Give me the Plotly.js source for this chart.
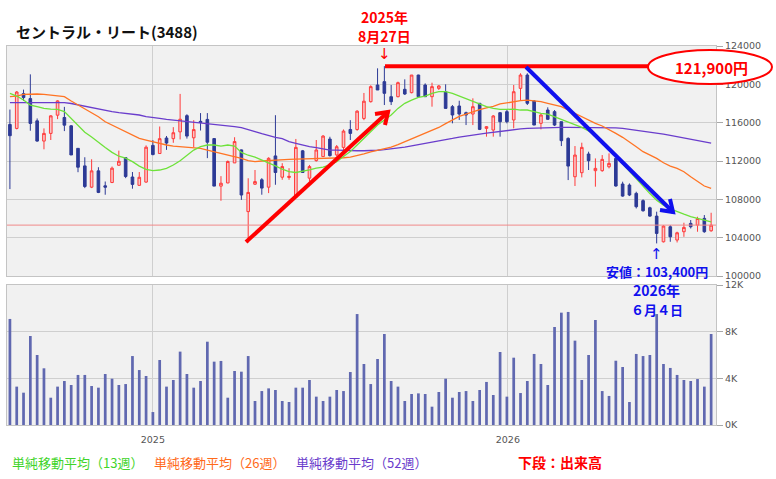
<!DOCTYPE html>
<html>
<head>
<meta charset="utf-8">
<script src="https://cdn.plot.ly/plotly-3.0.1.min.js"></script>
<style>
html,body{margin:0;padding:0;background:#fff;}
#chart{width:776px;height:479px;}
</style>
</head>
<body>
<div id="chart"></div>
<script>
const dates = [
'2024-08-07','2024-08-14','2024-08-21','2024-08-28','2024-09-04','2024-09-11','2024-09-18','2024-09-25',
'2024-10-02','2024-10-09','2024-10-16','2024-10-23','2024-10-30','2024-11-06','2024-11-13','2024-11-20',
'2024-11-27','2024-12-04','2024-12-11','2024-12-18','2024-12-25',
'2025-01-01','2025-01-08','2025-01-15','2025-01-22','2025-01-29','2025-02-05','2025-02-12','2025-02-19',
'2025-02-26','2025-03-05','2025-03-12','2025-03-19','2025-03-26','2025-04-02','2025-04-09','2025-04-16',
'2025-04-23','2025-04-30','2025-05-07','2025-05-14','2025-05-21','2025-05-28','2025-06-04','2025-06-11',
'2025-06-18','2025-06-25','2025-07-02','2025-07-09','2025-07-16','2025-07-23','2025-07-30','2025-08-06',
'2025-08-13','2025-08-20','2025-08-27','2025-09-03','2025-09-10','2025-09-17','2025-09-24','2025-10-01',
'2025-10-08','2025-10-15','2025-10-22','2025-10-29','2025-11-05','2025-11-12','2025-11-19','2025-11-26',
'2025-12-03','2025-12-10','2025-12-17','2025-12-24','2025-12-31',
'2026-01-07','2026-01-14','2026-01-21','2026-01-28','2026-02-04','2026-02-11','2026-02-18','2026-02-25',
'2026-03-04','2026-03-11','2026-03-18','2026-03-25','2026-04-01','2026-04-08','2026-04-15','2026-04-22',
'2026-04-29','2026-05-06','2026-05-13','2026-05-20','2026-05-27','2026-06-03','2026-06-10','2026-06-17',
'2026-06-24','2026-07-01','2026-07-08','2026-07-15','2026-07-22','2026-07-29'];

const opens = [115810,115400,119030,118510,116190,114080,114880,116780,116540,115670,113320,111490,109270,110970,109410,109760,111560,112350,110330,109460,109800,
113630,112780,114400,114330,115040,116730,114420,116140,116340,114340,109380,109710,111800,113160,106720,109580,110040,109270,112530,110310,110280,108240,113060,110210,112040,112460,114290,112630,113420,115290,115290,116440,118190,119930,120280,118710,118710,119480,119130,120970,119930,118710,119580,119230,117670,117740,117040,116900,118020,115400,115230,117040,117150,
116280,119580,120970,118260,115930,117320,117150,116100,114360,110360,110780,112730,110990,110990,111400,112270,109600,109490,108620,107860,107120,106250,103570,105140,103750,104620,105490,105310,106010,104720];

const highs = [117370,119300,119450,121040,116440,115400,116780,118340,117650,115740,113320,112390,112180,111350,109860,111420,113080,112390,110850,110850,113630,
114180,115600,114610,115530,119000,116880,116260,117000,117000,114400,110420,112050,114480,113200,110200,111060,110210,112390,116780,111770,111250,114300,113150,111590,114190,114710,114530,113670,115290,116260,117300,119100,119900,121670,121900,119930,120280,120520,120970,121000,120100,120170,119930,120000,117840,118290,117150,118540,118020,115650,116800,117100,117320,
119930,121150,121150,118360,116900,117600,117320,116100,114470,113560,113910,112970,112270,112620,112800,112270,109840,109660,108790,108000,107230,106710,105310,105310,104620,105560,105840,106180,106360,106600];

const lows = [109070,115300,118270,115160,114010,113220,114190,116370,115120,112630,110830,109170,109170,108650,108480,109690,111490,110210,109110,109420,109730,
112600,112780,113160,113900,114250,114340,113440,115180,112300,109380,107850,109680,111800,107940,103500,109500,108480,108650,109520,110040,110040,108240,110800,109860,111940,112460,112460,112460,113150,114190,115150,116260,118100,119410,117840,117840,118640,118890,119060,118710,118710,117670,119410,117490,115930,116280,115750,115750,115230,114540,114540,114540,115930,
115410,118360,117840,115750,115300,116280,115650,113560,110010,109390,110290,111060,109320,110880,111230,109320,108270,108340,107050,106710,106180,103400,103500,103570,103500,104090,104960,104620,104510,104620];

const closes = [114640,119200,118620,115920,114080,114880,116710,118270,115740,112630,111350,109340,110970,108720,109270,111250,111970,110380,109560,110300,113440,
112670,114330,113870,114950,116360,114600,115280,116030,113960,109380,109680,111950,114030,108450,108720,109850,109170,112280,110800,111420,110400,113420,110800,111420,113150,114600,112560,113490,115120,114880,117200,118240,119760,119410,119060,118190,120170,118990,120970,118710,118710,119760,119830,117490,116800,116900,116800,117670,115300,115580,116700,116100,116100,
119230,120970,118020,115750,116800,116350,115750,114120,111470,112620,113420,112030,111230,112170,111750,109390,108340,108450,107230,106810,106250,104440,105210,104090,104510,105070,105140,106000,104620,105310];

const volumes = [9090,3290,2770,7630,6000,4860,2340,3290,3770,3430,4290,4290,3340,3200,4370,3970,3430,3510,5910,4710,4200,
1110,5570,3290,3860,6290,4370,3200,3770,7140,5430,5490,2340,4630,4570,5910,2060,2910,3140,3000,2060,1970,3200,3200,3860,2430,2060,2430,3000,2910,4540,9510,5230,3510,5660,7800,3770,3290,2060,2660,2710,2660,1570,2830,3970,2340,2830,2910,2060,3000,3690,2570,6260,2430,
5770,2740,3770,6090,5230,3430,8400,9630,9690,7230,3860,6000,9000,2910,2490,5510,4970,1970,6090,5910,6000,9510,5230,4890,4290,3860,3770,3940,3290,7800];

const ma13 = [119060,118780,118360,117840,117670,117490,117420,117390,117150,116400,115700,115000,114500,113900,113400,112900,112500,112300,111930,111470,111130,
110990,111060,111230,111580,112030,112620,113140,113490,113670,113670,113560,113670,113560,112900,112600,112400,112110,111830,111490,111140,110900,110800,110900,111070,111250,111350,111590,111940,112460,112980,113670,114400,115100,115750,116280,116800,117490,118020,118360,118640,118780,119060,119230,119230,119060,118780,118540,118190,117910,117670,117490,117390,117390,
117420,117320,117320,117150,116970,116900,116630,116350,116050,115800,115500,115150,114600,113950,113250,112500,111700,110900,110100,109300,108600,107900,107400,107000,106700,106450,106200,106000,105800,105650];

const ma26 = [118710,118780,118950,118990,118990,118950,118890,118780,118710,118260,117840,117490,117040,116620,116100,115750,115410,115060,114710,114360,114190,
114010,113840,113670,113560,113490,113490,113420,113320,113140,112970,112800,112620,112450,112270,112030,111930,112000,112060,112100,112140,112170,112200,112210,112230,112240,112250,112270,112300,112340,112400,112550,112750,112950,113100,113250,113450,113700,114000,114280,114560,114830,115150,115500,115900,116300,116650,116900,117150,117350,117550,117700,117950,118080,
118190,118290,118360,118290,118190,118020,117840,117670,117320,116970,116560,116280,115930,115650,115300,114880,114470,114010,113490,112970,112620,112270,111820,111470,111230,110880,110360,109840,109390,109140];

const ma52 = [118090,118090,118090,118090,118090,118090,118090,118090,118090,118000,117850,117700,117550,117400,117270,117150,117040,116970,116900,116800,116620,
116560,116450,116350,116280,116210,116100,116000,115930,115930,115860,115750,115650,115580,115480,115230,115060,114850,114640,114470,114330,114030,113850,113660,113510,113400,113290,113140,113140,113100,113070,113070,113070,113070,113120,113180,113250,113350,113450,113580,113700,113830,113950,114070,114200,114350,114500,114620,114700,114810,114900,115000,115100,115200,
115300,115350,115410,115440,115480,115500,115510,115510,115510,115510,115510,115520,115510,115510,115510,115460,115410,115320,115230,115150,115060,114950,114810,114680,114540,114420,114290,114150,114010,113870];

const yearTicks = ['2025-01-01','2026-01-01'];
const yearLabels = ['2025','2026'];
const priceTicks = [100000,104000,108000,112000,116000,120000,124000];
const volTicks = [0,4000,8000,12000];
const volLabels = ['0K','4K','8K','12K'];

const peakIdx = 55, lowIdx = 95;

// pixel -> paper helpers (plot area: left 7, width 709, bottom 425, height 379)
const L = 7, W = 709, B = 425, H = 379;
const px = v => (v - L) / W;
const py = v => (B - v) / H;
function path(pts){ return pts.map((p,i)=> (i===0?'M ':'L ') + px(p[0]).toFixed(5) + ' ' + py(p[1]).toFixed(5)).join(' '); }

const JP = 'Noto Sans CJK JP';
const RED = '#ff0000', BLUE = '#1010ee';

const traces = [
  {type:'candlestick', x:dates, open:opens, high:highs, low:lows, close:closes,
   xaxis:'x', yaxis:'y', whiskerwidth:0,
   increasing:{line:{color:'#ff3b3b', width:1}, fillcolor:'#f9c6c6'},
   decreasing:{line:{color:'#2d3a96', width:1}, fillcolor:'#2d3a96'},
   hoverinfo:'skip', showlegend:false},
  {type:'scatter', mode:'lines', x:dates, y:ma52, xaxis:'x', yaxis:'y', line:{color:'#6a3dcc', width:1.3}, hoverinfo:'skip', showlegend:false},
  {type:'scatter', mode:'lines', x:dates, y:ma26, xaxis:'x', yaxis:'y', line:{color:'#ff7424', width:1.3}, hoverinfo:'skip', showlegend:false},
  {type:'scatter', mode:'lines', x:dates, y:ma13, xaxis:'x', yaxis:'y', line:{color:'#6ee23a', width:1.3}, hoverinfo:'skip', showlegend:false},
  {type:'bar', x:dates, y:volumes, xaxis:'x2', yaxis:'y2', width:2.8*86400000,
   marker:{color:'#6068b0', line:{width:0}}, hoverinfo:'skip', showlegend:false}
];

const gridC = '#cfcfcf', lineC = '#c4c4c4';
const tickFont = {family:'DejaVu Sans', size:9.5, color:'#555'};

const layout = {
  width:776, height:479,
  margin:{l:L, r:60, t:46, b:54},
  paper_bgcolor:'#ffffff', plot_bgcolor:'#f1f1f1',
  boxgap:0.45,
  hovermode:false, showlegend:false,
  xaxis:{type:'date', anchor:'y', range:['2024-08-04','2026-08-03'],
    tickvals:yearTicks, showticklabels:false, showgrid:true, gridcolor:gridC, zeroline:false,
    showline:true, linecolor:lineC, mirror:true, ticks:'', rangeslider:{visible:false}, fixedrange:true},
  xaxis2:{type:'date', anchor:'y2', matches:'x', range:['2024-08-04','2026-08-03'],
    tickvals:yearTicks, ticktext:yearLabels, showgrid:true, gridcolor:gridC, zeroline:false,
    showline:true, linecolor:lineC, mirror:true, ticks:'', ticklabelstandoff:6, tickfont:tickFont, fixedrange:true},
  yaxis:{domain:[(B-276)/H, 1], anchor:'x', side:'right', range:[100000,124000],
    tickvals:priceTicks, tickformat:'d', showgrid:true, gridcolor:gridC, zeroline:false,
    showline:true, linecolor:lineC, mirror:true, ticks:'outside', ticklen:6, tickcolor:'#a8a8a8',
    tickfont:tickFont, fixedrange:true},
  yaxis2:{domain:[0, (B-285)/H], anchor:'x2', side:'right', range:[0,12000],
    tickvals:volTicks, ticktext:volLabels, showgrid:true, gridcolor:gridC, zeroline:false,
    showline:true, linecolor:lineC, mirror:true, ticks:'outside', ticklen:6, tickcolor:'#a8a8a8',
    tickfont:tickFont, fixedrange:true},
  shapes:[
    {type:'line', xref:'paper', yref:'y', x0:0, x1:1, y0:closes[closes.length-1], y1:closes[closes.length-1],
     line:{color:'#f08a8a', width:1}, layer:'above'},
    {type:'line', xref:'paper', yref:'y', x0:px(385), x1:px(652), y0:highs[peakIdx], y1:highs[peakIdx],
     line:{color:RED, width:4}, layer:'above'},
    {type:'circle', xref:'paper', yref:'paper', x0:px(648), x1:px(772), y0:py(84), y1:py(50),
     line:{color:RED, width:2}, fillcolor:'#ffffff', layer:'above'},
    {type:'path', xref:'paper', yref:'paper', path:path([[246,242],[388,112]]), line:{color:RED, width:4}, layer:'above'},
    {type:'path', xref:'paper', yref:'paper', path:path([[375,114],[388,112],[385,125]]), line:{color:RED, width:4}, layer:'above'},
    {type:'path', xref:'paper', yref:'paper', path:path([[526,67],[673,212]]), line:{color:BLUE, width:4}, layer:'above'},
    {type:'path', xref:'paper', yref:'paper', path:path([[670,199],[673,212],[660,210]]), line:{color:BLUE, width:4}, layer:'above'}
  ],
  annotations:[
    {xref:'paper', yref:'paper', x:px(14), y:py(31), xanchor:'left', yanchor:'middle', showarrow:false,
     text:'<b>セントラル・リート(3488)</b>', font:{family:JP, size:15, color:'#111'}},
    {xref:'x', yref:'paper', x:dates[peakIdx], y:py(17), xanchor:'center', yanchor:'middle', showarrow:false,
     text:'<b>2025年</b>', font:{family:JP, size:14, color:RED}},
    {xref:'x', yref:'paper', x:dates[peakIdx], y:py(36), xanchor:'center', yanchor:'middle', showarrow:false,
     text:'<b>8月27日</b>', font:{family:JP, size:14, color:RED}},
    {xref:'x', yref:'paper', x:dates[peakIdx], y:py(54), xanchor:'center', yanchor:'middle', showarrow:false,
     text:'↓', font:{family:'DejaVu Sans', size:15, color:RED}},
    {xref:'paper', yref:'paper', x:px(711), y:py(67), xanchor:'center', yanchor:'middle', showarrow:false,
     text:'<b>121,900円</b>', font:{family:JP, size:15, color:RED}},
    {xref:'x', yref:'paper', x:dates[lowIdx], y:py(254), xanchor:'center', yanchor:'middle', showarrow:false,
     text:'↑', font:{family:'DejaVu Sans', size:15, color:BLUE}},
    {xref:'x', yref:'paper', x:dates[lowIdx], y:py(271), xanchor:'center', yanchor:'middle', showarrow:false,
     text:'<b>安値：103,400円</b>', font:{family:JP, size:13, color:BLUE}},
    {xref:'x', yref:'paper', x:dates[lowIdx], y:py(290), xanchor:'center', yanchor:'middle', showarrow:false,
     text:'<b>2026年</b>', font:{family:JP, size:14, color:BLUE}},
    {xref:'x', yref:'paper', x:dates[lowIdx], y:py(309), xanchor:'center', yanchor:'middle', showarrow:false,
     text:'<b>６月４日</b>', font:{family:JP, size:13, color:BLUE}},
    {xref:'paper', yref:'paper', x:px(10), y:py(462), xanchor:'left', yanchor:'middle', showarrow:false,
     text:'単純移動平均（13週）', font:{family:JP, size:13, color:'#3fd42a'}},
    {xref:'paper', yref:'paper', x:px(152), y:py(462), xanchor:'left', yanchor:'middle', showarrow:false,
     text:'単純移動平均（26週）', font:{family:JP, size:13, color:'#ff6a1a'}},
    {xref:'paper', yref:'paper', x:px(294), y:py(462), xanchor:'left', yanchor:'middle', showarrow:false,
     text:'単純移動平均（52週）', font:{family:JP, size:13, color:'#6a3dcc'}},
    {xref:'paper', yref:'paper', x:px(516), y:py(462), xanchor:'left', yanchor:'middle', showarrow:false,
     text:'<b>下段：出来高</b>', font:{family:JP, size:14, color:RED}}
  ]
};

Plotly.newPlot('chart', traces, layout, {staticPlot:true, displayModeBar:false});
</script>
</body>
</html>
